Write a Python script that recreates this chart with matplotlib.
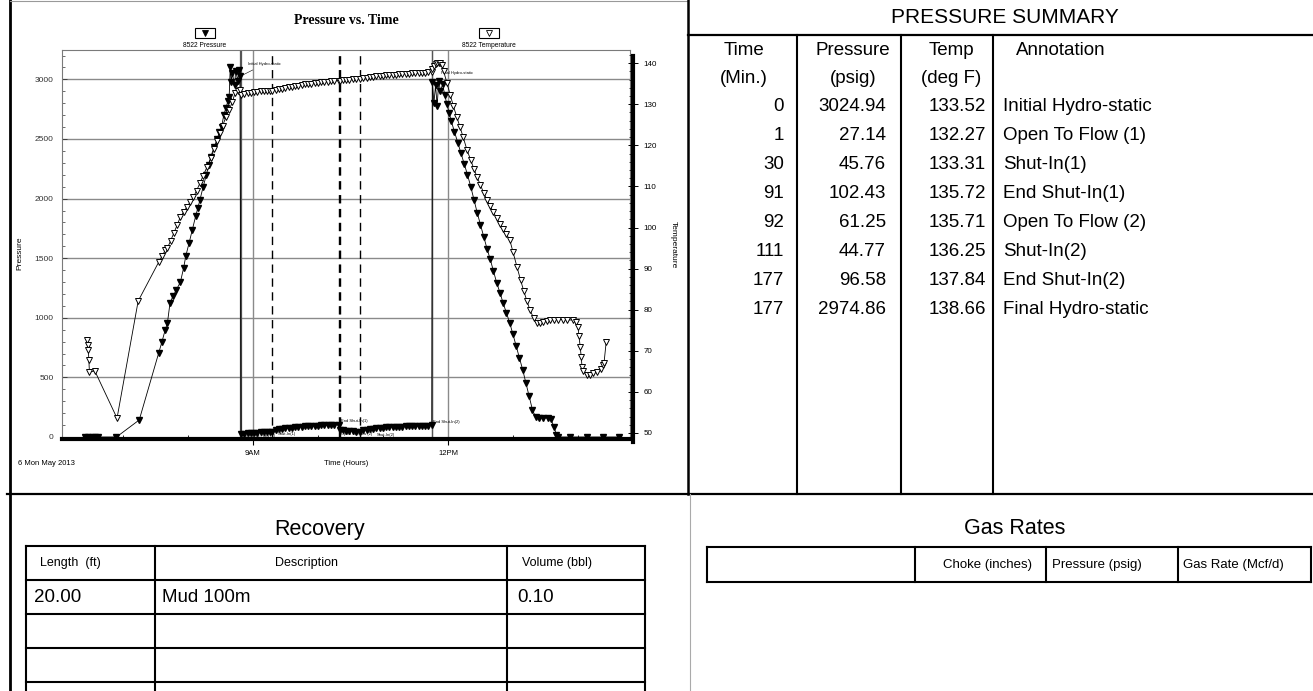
import matplotlib.pyplot as plt
from matplotlib.patches import Rectangle
from matplotlib.ticker import FixedLocator, MultipleLocator

plt.rcParams['font.family'] = ['Liberation Sans', 'DejaVu Sans']

# gauge 8522, time in minutes from the initial hydro-static reading (8:48 AM)
start_hour = 8.8

pressure_pts = [
    (-143, 0), (-140, 0), (-137, 0), (-134, 0), (-131, 0), (-114, 0), (-93, 143),
    (-75, 705), (-72, 800), (-69, 900), (-67, 956), (-64.6, 1124), (-62, 1180),
    (-59, 1230), (-55, 1300), (-52, 1420), (-50, 1520), (-47, 1627), (-44, 1740),
    (-41, 1850), (-39, 1920), (-37, 1988), (-34, 2100), (-31, 2200), (-29, 2280),
    (-27, 2349), (-24, 2430), (-21, 2500), (-19, 2560), (-17, 2600), (-15, 2700),
    (-13, 2760), (-11, 2820), (-10, 2852), (-9, 3104), (-8, 2980), (-7, 3050),
    (-5, 2950), (-4, 3070), (-2, 2990), (-1, 3080), (0, 3024.94),
    (1, 27.14), (4, 29), (7, 31), (10, 33), (13, 35), (16, 37), (19, 39), (22, 41),
    (25, 43), (28, 44.5), (30, 45.76),
    (33, 56), (36, 63), (39, 68), (42, 72), (45, 76), (48, 79), (51, 82), (54, 85),
    (57, 87), (60, 89), (63, 91), (66, 93), (69, 94), (72, 96), (75, 97), (78, 98),
    (81, 99), (84, 100), (87, 101), (91, 102.43),
    (92, 61.25), (95, 57), (98, 54), (101, 51), (104, 48), (107, 46), (111, 44.77),
    (114, 55), (117, 61), (120, 66), (123, 70), (126, 73), (129, 76), (132, 78),
    (135, 80), (138, 82), (141, 84), (144, 86), (147, 87), (150, 88), (153, 89),
    (156, 90), (159, 91), (162, 92), (165, 93), (168, 94), (171, 95), (174, 96),
    (177, 96.58),
    (177.6, 2974.86), (179, 2800), (180.5, 2950), (182, 2780), (183.5, 2990),
    (185, 2900), (187, 2960), (189, 2870), (191, 2790), (193, 2720), (195, 2650),
    (198, 2560), (201, 2470), (204, 2380), (207, 2290), (210, 2200), (213, 2100),
    (216, 1990), (219, 1880), (222, 1780), (225, 1680), (228, 1580), (231, 1490),
    (234, 1390), (237, 1292), (240, 1210), (243, 1120), (246, 1040), (249, 956),
    (252, 860), (255, 760), (258, 660), (261, 562), (264, 450), (267, 340),
    (270, 226), (273, 165), (276, 160), (280, 158), (284, 160), (287, 150),
    (290, 80), (292, 20), (294, 0), (305, 0), (320, 0), (335, 0), (350, 0),
]

temperature_pts = [
    (-141, 72.6), (-140.5, 71.4), (-140, 70.2), (-139.5, 67.8), (-139, 64.8),
    (-134, 65.1), (-113.5, 53.6), (-94, 82.1), (-75, 91.6), (-72, 93.0),
    (-69, 94.5), (-67, 95.0), (-64, 96.8), (-61, 98.7), (-58, 100.6), (-55, 102.6),
    (-52, 103.8), (-49, 105.0), (-46, 106.2), (-43, 107.4), (-40, 109.0),
    (-37, 110.8), (-34, 112.6), (-30.5, 114.7), (-27, 116.8), (-24, 119.0),
    (-21, 121.0), (-18.5, 123.0), (-16, 124.8), (-13, 126.9), (-10, 128.6),
    (-7, 130.6), (-4.6, 132.7), (-2, 133.2), (0, 133.52),
    (1, 132.27), (4, 132.5), (7, 132.7), (10, 132.8), (13, 132.9), (16, 133.0),
    (19, 133.1), (22, 133.2), (25, 133.2), (28, 133.3), (30, 133.31), (33, 133.5),
    (36, 133.7), (39, 133.8), (42, 134.0), (45, 134.1), (48, 134.3), (51, 134.4),
    (54, 134.5), (57, 134.6), (60, 134.8), (63, 134.9), (66, 135.0), (69, 135.1),
    (72, 135.2), (75, 135.3), (78, 135.4), (81, 135.5), (84, 135.6), (87, 135.65),
    (91, 135.72), (92, 135.71), (95, 135.8), (98, 135.9), (101, 136.0),
    (104, 136.1), (107, 136.2), (111, 136.25), (114, 136.35), (117, 136.45),
    (120, 136.55), (123, 136.65), (126, 136.75), (129, 136.85), (132, 136.95),
    (135, 137.0), (138, 137.1), (141, 137.15), (144, 137.2), (147, 137.3),
    (150, 137.35), (153, 137.4), (156, 137.45), (159, 137.5), (162, 137.55),
    (165, 137.6), (168, 137.65), (171, 137.7), (174, 137.75), (177, 137.84),
    (177.6, 138.66),
    (179, 139.3), (180.5, 139.9), (182, 140.1), (183.5, 140.0), (185, 140.1),
    (186.5, 139.6), (188, 138.0), (191, 135.2), (194, 132.3), (197, 129.5),
    (200, 127.0), (203, 124.5), (206, 122.0), (209.5, 118.9), (213, 116.4),
    (216, 114.2), (219, 112.2), (222, 110.3), (225, 108.4), (228, 106.7),
    (231, 105.2), (234, 103.7), (237, 102.2), (240, 100.9), (243, 99.6),
    (246, 98.3), (249, 97.0), (252, 94.0), (255.7, 90.4), (259, 87.2), (262, 84.5),
    (265, 82.0), (267.7, 79.9), (271, 78.0), (274, 76.8), (277, 76.7), (280, 76.9),
    (283, 77.2), (286, 77.5), (290, 77.6), (294, 77.6), (298, 77.6), (302, 77.5),
    (307, 77.5), (310, 77.0), (312, 75.8), (313, 73.5), (314, 71.0), (315, 68.5),
    (315.7, 66.1), (317, 65.0), (320, 64.1), (323, 64.2), (326, 64.5), (330, 64.8),
    (333, 65.5), (335, 66.5), (336, 67.0), (338, 72.1),
]

summary_time = [0, 1, 30, 91, 92, 111, 177, 177]
summary_pressure = [3024.94, 27.14, 45.76, 102.43, 61.25, 44.77, 96.58, 2974.86]
summary_temp = [133.52, 132.27, 133.31, 135.72, 135.71, 136.25, 137.84, 138.66]
summary_note = ['Initial Hydro-static', 'Open To Flow (1)', 'Shut-In(1)',
                'End Shut-In(1)', 'Open To Flow (2)', 'Shut-In(2)',
                'End Shut-In(2)', 'Final Hydro-static']

recovery_cols = ['Length  (ft)', 'Description', 'Volume (bbl)']
recovery_length = ['20.00']
recovery_desc = ['Mud 100m']
recovery_volume = ['0.10']

gas_cols = ['', 'Choke (inches)', 'Pressure (psig)', 'Gas Rate (Mcf/d)']

clock_hours = [9, 12]
clock_labels = ['9AM', '12PM']

W, H = 1313, 691
fig = plt.figure(figsize=(W / 100, H / 100), dpi=100)


def frac(x0, y0, x1, y1):
    return [x0 / W, 1 - y1 / H, (x1 - x0) / W, (y1 - y0) / H]


page = fig.add_axes([0, 0, 1, 1])
page.set_xlim(0, W)
page.set_ylim(H, 0)
page.axis('off')

ax = fig.add_axes(frac(62, 50, 630, 439))
tx = ax.twinx()

pm = [p[0] for p in pressure_pts]
pv = [p[1] for p in pressure_pts]
tm = [p[0] for p in temperature_pts]
tv = [p[1] for p in temperature_pts]

ax.set_xlim(-164.3, 360)
ax.set_ylim(-16.8, 3246.5)
tx.set_ylim(48.54, 143.19)

grid_c = '#8a8a8a'
for v in range(500, 3001, 500):
    ax.axhline(v, color=grid_c, lw=1.0, zorder=1)
clock_ticks = [(h - start_hour) * 60 for h in clock_hours]
for t in clock_ticks:
    ax.axvline(t, color=grid_c, lw=1.0, zorder=1)

# event lines from the pressure summary
for t, note in zip(summary_time, summary_note):
    if note in ('Shut-In(1)', 'End Shut-In(1)', 'Open To Flow (2)', 'Shut-In(2)'):
        ax.axvline(t, color='black', lw=1.0, dashes=(6, 4), zorder=1)
    else:
        ax.axvline(t, color='#555555', lw=0.9, zorder=1)

ax.plot(pm, pv, color='black', lw=0.6, marker='v', ms=4, mfc='black',
        mec='black', zorder=3)
tx.plot(tm, tv, color='black', lw=0.6, marker='v', ms=4.4, mfc='white',
        mec='black', mew=0.7, zorder=3)

# event annotations
offsets = {'Initial Hydro-static': (6, 9), 'Final Hydro-static': (7, 7),
           'End Shut-In(1)': (1.5, 2.5), 'Open To Flow (2)': (1, -3),
           'End Shut-In(2)': (0.8, 2.5), 'Shut-In(2)': (12, -2.5),
           'Open To Flow (1)': (2, -1.5), 'Shut-In(1)': (4, -1.5)}
for t, p, note in zip(summary_time, summary_pressure, summary_note):
    dx, dy = offsets[note]
    arrow = dict(arrowstyle='-', lw=0.4, color='black') if 'Hydro' in note else None
    ax.annotate(note, xy=(t, p), xytext=(dx, dy), textcoords='offset points',
                fontsize=3.0, ha='left', va='center', arrowprops=arrow, zorder=5)

for s in ['left', 'top', 'right']:
    ax.spines[s].set_color('#7a7a7a')
    ax.spines[s].set_linewidth(0.8)
ax.spines['bottom'].set_linewidth(3)
ax.spines['bottom'].set_color('black')

ax.yaxis.set_major_locator(MultipleLocator(500))
ax.yaxis.set_minor_locator(MultipleLocator(100))
ax.tick_params(axis='y', which='major', direction='in', length=3.5, width=0.6,
               labelsize=6, pad=6, colors='#333333')
ax.tick_params(axis='y', which='minor', direction='in', length=2, width=0.5,
               color='#333333')
ax.xaxis.set_major_locator(FixedLocator(clock_ticks))
ax.set_xticklabels(clock_labels)
ax.xaxis.set_minor_locator(FixedLocator([(h - start_hour) * 60 for h in [7, 8, 10, 11, 13, 14]]))
ax.tick_params(axis='x', which='major', direction='out', length=4, width=0.8,
               labelsize=5.5, pad=4)
ax.tick_params(axis='x', which='minor', direction='in', length=3, width=0.6)

for s in ['left', 'top', 'bottom']:
    tx.spines[s].set_visible(False)
tx.spines['right'].set_linewidth(3)
tx.spines['right'].set_position(('outward', 2))
tx.spines['right'].set_bounds(47.8, 141.7)
tx.yaxis.set_major_locator(MultipleLocator(10))
tx.yaxis.set_minor_locator(MultipleLocator(2))
tx.tick_params(axis='y', which='major', direction='inout', length=7, width=0.7,
               labelsize=5.8, pad=4)
tx.tick_params(axis='y', which='minor', direction='in', length=3, width=0.5)

# chart texts
page.text(346, 20, 'Pressure vs. Time', family='Liberation Serif',
          weight='bold', size=10, ha='center', va='center')
for cx, label, face in [(205, '8522 Pressure', 'black'),
                        (489, '8522 Temperature', 'white')]:
    page.add_patch(Rectangle((cx - 10, 28), 20, 10, fill=False, lw=0.8,
                             edgecolor='black'))
    page.plot([cx], [32.5], marker='v', ms=4, mfc=face, mec='black', mew=0.6)
    page.text(cx, 45, label, size=4.8, ha='center', va='center')
page.text(18, 463, '6 Mon May 2013', size=5.5, ha='left', va='center')
page.text(346, 463, 'Time (Hours)', size=5.5, ha='center', va='center')
page.text(20, 253, 'Pressure', size=6, rotation=90, ha='center', va='center')
page.text(673, 245, 'Temperature', size=6, rotation=-90, ha='center', va='center')

# panel frame
k = 'black'
page.plot([10, 10], [0, H], color=k, lw=2)
page.plot([10, 688], [1, 1], color='#999999', lw=0.8)
page.plot([7, W], [494, 494], color=k, lw=1.6)
page.plot([688, 688], [0, 494], color=k, lw=1.8)
page.plot([690, 690], [494, H], color='#aaaaaa', lw=0.8)

# pressure summary
page.text(1005, 17, 'PRESSURE SUMMARY', size=15, ha='center', va='center')
page.plot([688, W], [35, 35], color=k, lw=1.6)
for x in [797, 901, 993]:
    page.plot([x, x], [35, 494], color=k, lw=1.5)
hs = 13.5
for cx, top, bottom in [(744, 'Time', '(Min.)'), (853, 'Pressure', '(psig)'),
                        (951, 'Temp', '(deg F)')]:
    page.text(cx, 50, top, size=hs, ha='center', va='center')
    page.text(cx, 78, bottom, size=hs, ha='center', va='center')
page.text(1016, 50, 'Annotation', size=hs, ha='left', va='center')
for i, (t, p, tmp, note) in enumerate(zip(summary_time, summary_pressure,
                                          summary_temp, summary_note)):
    y = 106 + 29 * i
    page.text(784, y, f'{t}', size=hs, ha='right', va='center')
    page.text(886, y, f'{p:.2f}', size=hs, ha='right', va='center')
    page.text(986, y, f'{tmp:.2f}', size=hs, ha='right', va='center')
    page.text(1003, y, note, size=hs, ha='left', va='center')

# recovery table
page.text(320, 529, 'Recovery', size=15.5, ha='center', va='center')
rx = [26, 155, 507, 645]
for y in [546, 580, 614, 648, 682]:
    page.plot([rx[0], rx[-1]], [y, y], color=k, lw=1.5)
for x in rx:
    page.plot([x, x], [546, H], color=k, lw=1.5)
page.text(40, 563, recovery_cols[0], size=9, ha='left', va='center')
page.text(307, 563, recovery_cols[1], size=9, ha='center', va='center')
page.text(522, 563, recovery_cols[2], size=9, ha='left', va='center')
for i, (ln, ds, vol) in enumerate(zip(recovery_length, recovery_desc,
                                      recovery_volume)):
    y = 597 + 34 * i
    page.text(34, y, ln, size=13.5, ha='left', va='center')
    page.text(162, y, ds, size=13.5, ha='left', va='center')
    page.text(517, y, vol, size=13.5, ha='left', va='center')

# gas rates table
page.text(1015, 528, 'Gas Rates', size=15.5, ha='center', va='center')
gx = [707, 915, 1046, 1178, 1311]
for y in [547, 582]:
    page.plot([gx[0], gx[-1]], [y, y], color=k, lw=1.5)
for x in gx:
    page.plot([x, x], [547, 582], color=k, lw=1.5)
page.text(1032, 565, gas_cols[1], size=9.5, ha='right', va='center')
page.text(1052, 565, gas_cols[2], size=9.5, ha='left', va='center')
page.text(1183, 565, gas_cols[3], size=9.5, ha='left', va='center')

fig.savefig('out.png', dpi=100)
